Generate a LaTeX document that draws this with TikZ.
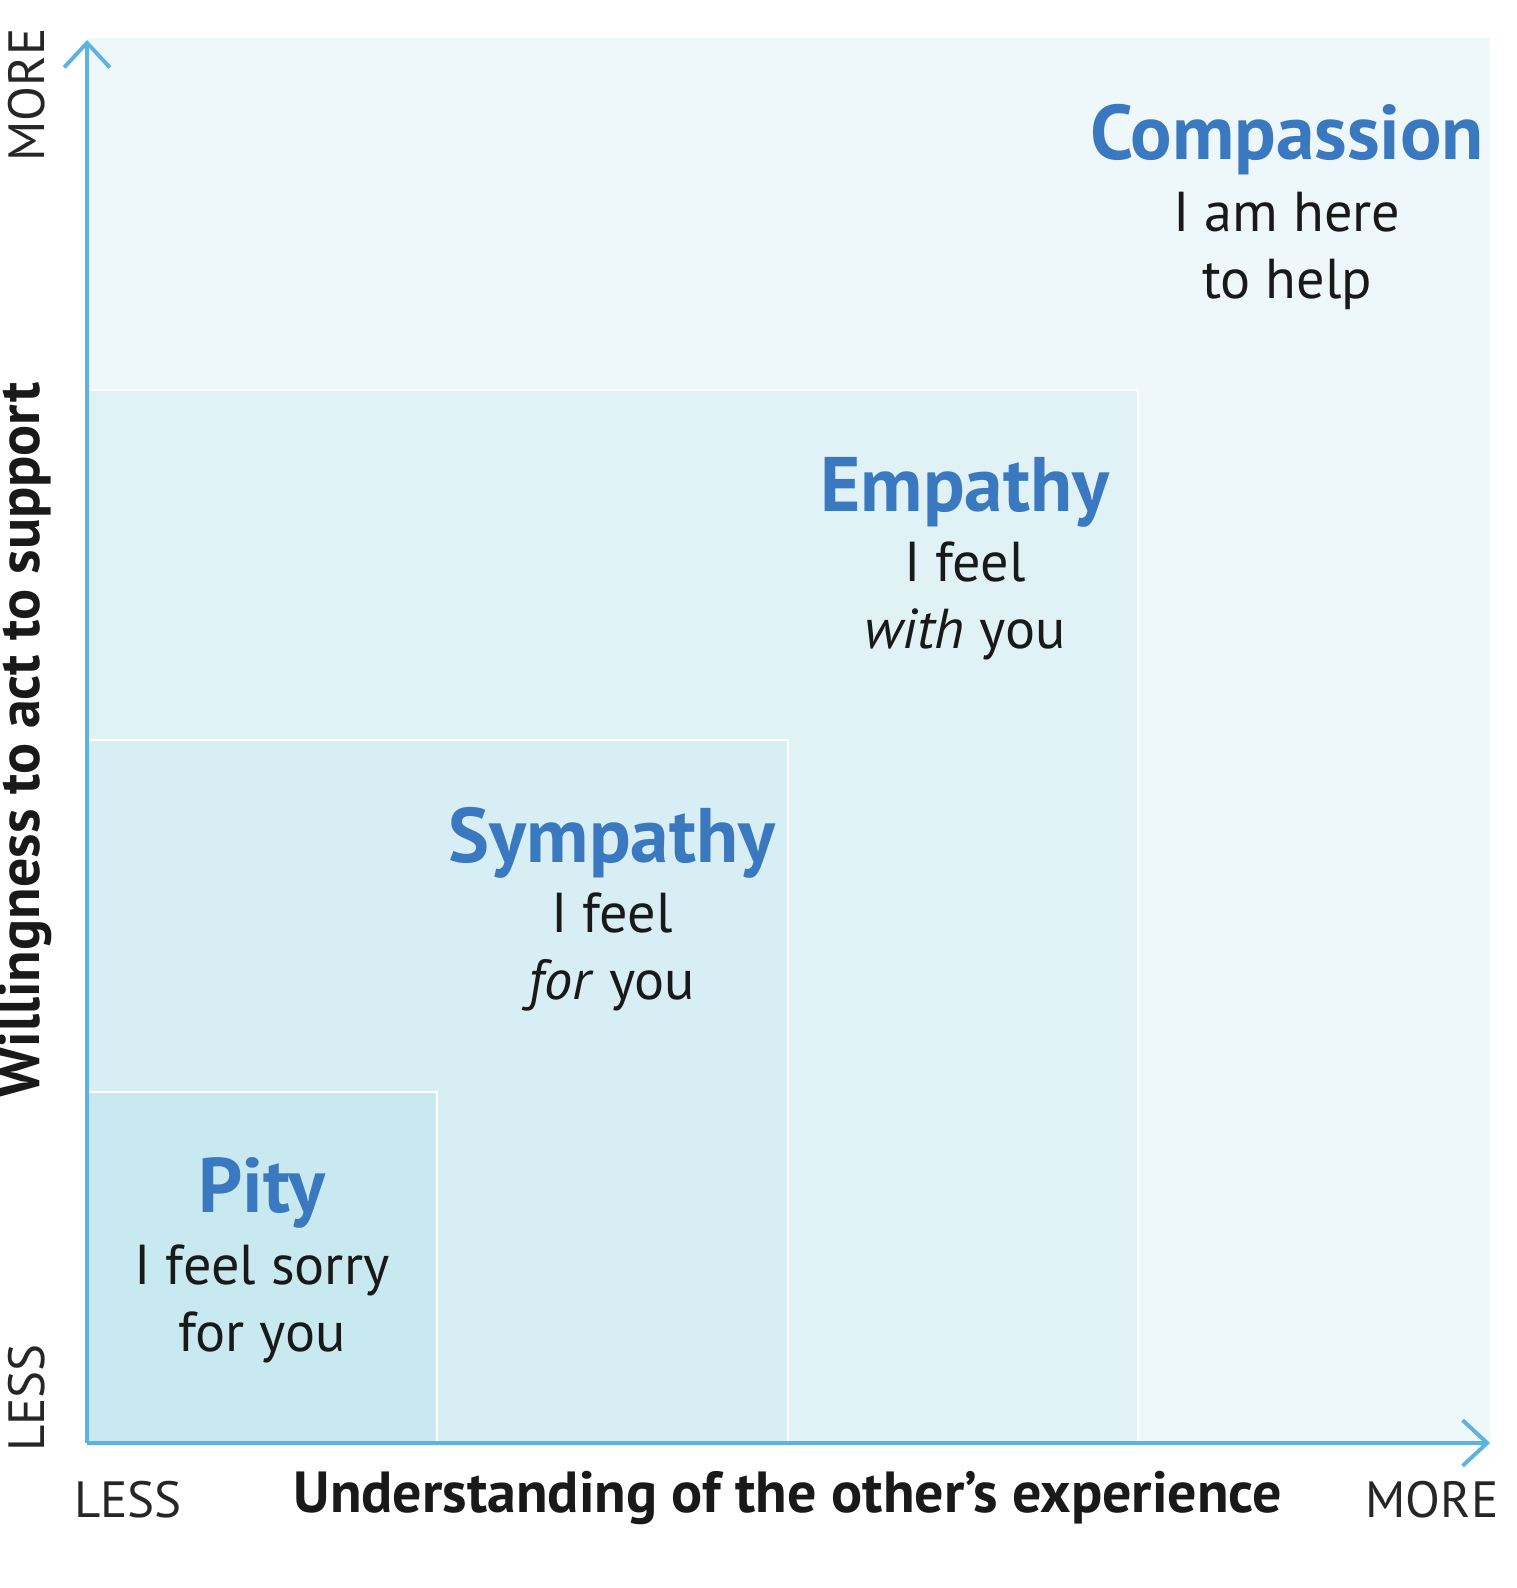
\documentclass[tikz,border=0pt]{standalone}
\usepackage{fontspec}
\setmainfont{PT Sans}
\usetikzlibrary{arrows.meta}
\definecolor{bg0}{HTML}{EEF7FA}
\definecolor{bg1}{HTML}{E1F2F7}
\definecolor{bg2}{HTML}{D7EEF4}
\definecolor{bg3}{HTML}{C9E9F0}
\definecolor{axis}{HTML}{5DB3E0}
\definecolor{ttl}{HTML}{3A78C0}
\tikzset{
 region/.style={draw=white,line width=1pt},
 ttlnode/.style={font=\fontsize{44}{50}\selectfont\bfseries,text=ttl},
 body/.style={font=\fontsize{32}{38}\selectfont,align=center,text=black!90},
 axl/.style={font=\fontsize{29}{34}\selectfont,text=black!85},
 axt/.style={font=\fontsize{33}{38}\selectfont\bfseries,text=black!90},
 axisline/.style={draw=axis,line width=2.2pt,-{Straight Barb[length=14pt,width=26pt,line width=2.2pt]}}
}
\begin{document}
\begin{tikzpicture}[x=0.02cm,y=-0.02cm]
\useasboundingbox (0,0) rectangle (1516,1588);
\fill[white] (0,0) rectangle (1516,1588);
\fill[bg0] (87,38) rectangle (1490,1443);
\filldraw[region,fill=bg1] (87,390) rectangle (1138,1443);
\filldraw[region,fill=bg2] (87,740) rectangle (788,1443);
\filldraw[region,fill=bg3] (87,1092) rectangle (437,1443);
\coordinate (O) at (87,1443);
\coordinate (Y) at (87,40);
\coordinate (X) at (1490,1443);
\draw[axisline] (O) -- (Y);
\draw[axisline] (O) -- (X);
\node[ttlnode] (c) at (1287,140) {Compassion};
\node[body] (ct) at (1287,251) {I am here\\to help};
\node[ttlnode] (e) at (965,492) {Empathy};
\node[body] (et) at (965,601) {I feel\\\textit{with} you};
\node[ttlnode] (s) at (612,843) {Sympathy};
\node[body] (st) at (612,952) {I feel\\\textit{for} you};
\node[ttlnode] (p) at (262,1193) {Pity};
\node[body] (pt) at (262,1304) {I feel sorry\\for you};
\node[axt] (xt) at (788,1498) {Understanding of the other’s experience};
\node[axl] (xl) at (128,1500) {LESS};
\node[axl] (xm) at (1432,1500) {MORE};
\node[axt,rotate=90] (yt) at (25,740) {Willingness to act to support};
\node[axl,rotate=90] (ym) at (27,95) {MORE};
\node[axl,rotate=90] (yl) at (27,1398) {LESS};
\end{tikzpicture}
\end{document}
